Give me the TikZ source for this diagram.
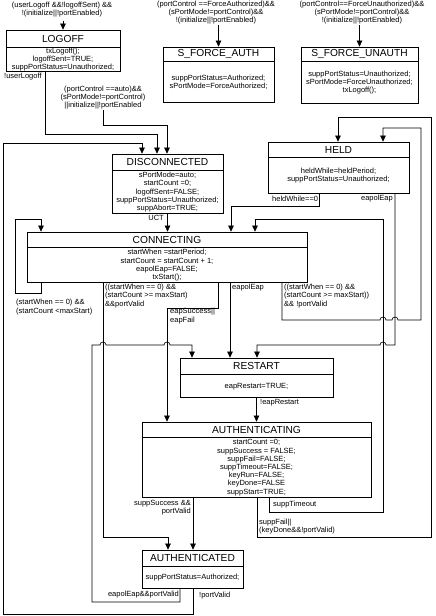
\documentclass[tikz,border=0pt]{standalone}
\usepackage{fontspec}
\setmainfont{Liberation Sans}
\usetikzlibrary{arrows.meta, calc}

\begin{document}
\begin{tikzpicture}[x=1pt,y=-1pt,
    sttitle/.style={draw, line width=0.7pt, inner sep=0pt, font=\fontsize{10.2}{12}\selectfont},
    stbody/.style={draw, line width=0.7pt, inner sep=0pt, align=center, font=\fontsize{7.5}{8.2}\selectfont},
    lbl/.style={inner sep=0pt, font=\fontsize{7.5}{8.2}\selectfont},
    trans/.style={line width=0.65pt, -{Triangle[length=6pt,width=5.5pt]}}]
      \useasboundingbox (0,0) rectangle (436,616);

      % states
      \node[sttitle, minimum width=114pt, minimum height=17pt] (logoff) at (63,38.5) {LOGOFF};
      \node[stbody, minimum width=114pt, minimum height=23pt, anchor=north] (logoffb) at (logoff.south) {txLogoff();\\logoffSent=TRUE;\\suppPortStatus=Unauthorized;};

      \node[sttitle, minimum width=111pt, minimum height=14pt] (sfa) at (218.5,54) {S\_FORCE\_AUTH};
      \node[stbody, minimum width=111pt, minimum height=41pt, anchor=north] (sfab) at (sfa.south) {suppPortStatus=Authorized;\\sPortMode=ForceAuthorized;};

      \node[sttitle, minimum width=117pt, minimum height=14pt] (sfu) at (359.5,54) {S\_FORCE\_UNAUTH};
      \node[stbody, minimum width=117pt, minimum height=42pt, anchor=north] (sfub) at (sfu.south) {suppPortStatus=Unauthorized;\\sPortMode=ForceUnauthorized;\\txLogoff();};

      \node[sttitle, minimum width=111pt, minimum height=16pt] (disc) at (167.5,162) {DISCONNECTED};
      \node[stbody, minimum width=111pt, minimum height=43pt, anchor=north] (discb) at (disc.south) {sPortMode=auto;\\startCount =0;\\logoffSent=FALSE;\\suppPortStatus=Unauthorized;\\suppAbort=TRUE;};

      \node[sttitle, minimum width=141pt, minimum height=15pt] (held) at (338.5,149.5) {HELD};
      \node[stbody, minimum width=141pt, minimum height=36pt, anchor=north] (heldb) at (held.south) {heldWhile=heldPeriod;\\suppPortStatus=Unauthorized;};

      \node[sttitle, minimum width=280pt, minimum height=15pt] (conn) at (167,239.5) {CONNECTING};
      \node[stbody, minimum width=280pt, minimum height=35pt, anchor=north] (connb) at (conn.south) {startWhen =startPeriod;\\startCount = startCount + 1;\\eapolEap=FALSE;\\txStart();};

      \node[sttitle, minimum width=153pt, minimum height=16pt] (restart) at (256.5,366) {RESTART};
      \node[stbody, minimum width=153pt, minimum height=23pt, anchor=north] (restartb) at (restart.south) {eapRestart=TRUE;};

      \node[sttitle, minimum width=229pt, minimum height=15pt] (authing) at (256.5,429.5) {AUTHENTICATING};
      \node[stbody, minimum width=229pt, minimum height=60pt, anchor=north] (authingb) at (authing.south) {startCount =0;\\suppSuccess = FALSE;\\suppFail=FALSE;\\suppTimeout=FALSE;\\keyRun=FALSE;\\keyDone=FALSE\\suppStart=TRUE;};

      \node[sttitle, minimum width=101pt, minimum height=16pt] (authd) at (192.5,558) {AUTHENTICATED};
      \node[stbody, minimum width=101pt, minimum height=22pt, anchor=north] (authdb) at (authd.south) {suppPortStatus=Authorized;};

      % global entries
      \coordinate (inlogoff) at (63,21);
      \draw[trans] (inlogoff) -- (logoff.north);
      \node[lbl, align=center] (lblogoff) at (62,9.5) {(userLogoff \&\&!logoffSent) \&\&\\!(initialize||!portEnabled)};

      \coordinate (insfa) at (218.5,25);
      \draw[trans] (insfa) -- (sfa.north);
      \node[lbl, align=center] (lbsfa) at (216,12.5) {(portControl ==ForceAuthorized)\&\&\\(sPortMode!=portControl)\&\&\\!(initialize||!portEnabled)};

      \coordinate (insfu) at (359.5,25);
      \draw[trans] (insfu) -- (sfu.north);
      \node[lbl, align=center] (lbsfu) at (362,12.5) {(portControl==ForceUnauthorized)\&\&\\(sPortMode!=portControl)\&\&\\!(initialize||!portEnabled)};

      \coordinate (inauto) at (103,110);
      \draw[trans] (inauto) |- (167,125) -- (167,0 |- disc.north);
      \node[lbl, align=center] (lbauto) at (103,97.5) {(portControl ==auto)\&\&\\(sPortMode!=portControl)\\||initialize||!portEnabled};

      % LOGOFF
      \draw[trans] (45,0 |- logoffb.south) |- (157,134) -- (157,0 |- disc.north);
      \node[lbl, anchor=west] (lbuser) at (4,77) {!userLogoff};

      % DISCONNECTED
      \draw[trans] (discb.south) -- (discb.south |- conn.north);
      \node[lbl, anchor=east] (lbuct) at (164,218) {UCT};

      % HELD
      \draw[trans] (319,0 |- heldb.south) |- (231,206) -- (231,0 |- conn.north);
      \node[lbl, anchor=west] (lbheld) at (272,199) {heldWhile==0};
      \draw[trans] (395,0 |- heldb.south) -- (395,345) -- (386,345) arc(0:180:3pt) -- (257,345) -- (257,0 |- restart.north);
      \node[lbl, anchor=east] (lbheap) at (393,199) {eapolEap};

      % CONNECTING
      \draw[trans] (41,0 |- connb.south) |- (15,293) |- (41,219) -- (41,0 |- conn.north);
      \node[lbl, anchor=west, align=left] (lbretry) at (16,307) {(startWhen == 0) \&\&\\(startCount <maxStart)};
      \draw[trans] (103,0 |- connb.south) |- (168,537) -- (168,0 |- authd.north);
      \node[lbl, anchor=west, align=left] (lbvalid) at (105,296) {((startWhen == 0) \&\&\\(startCount >= maxStart)\\\&\&portValid};
      \draw[trans] (218,0 |- connb.south) |- (167,308) -- (167,0 |- authing.north);
      \node[lbl, anchor=west, align=left] (lbeap) at (170,316) {eapSuccess||\\eapFail};
      \draw[trans] (230,0 |- connb.south) -- (230,0 |- restart.north);
      \node[lbl, anchor=west] (lbceap) at (232,288) {eapolEap};
      \draw[trans] (282,0 |- connb.south) -- (282,320) -- (380,320) arc(180:0:3pt) -- (392,320) arc(180:0:3pt) -- (421,320) |- (383,128) -- (383,0 |- held.north);
      \node[lbl, anchor=west, align=left] (lbnovalid) at (284,296) {((startWhen == 0) \&\&\\(startCount >= maxStart))\\\&\& !portValid};

      % RESTART
      \draw[trans] (restartb.south) -- (authing.north);
      \node[lbl, anchor=west] (lbrestart) at (260,403) {!eapRestart};

      % AUTHENTICATING
      \draw[trans] (193,0 |- authingb.south) -- (193,0 |- authd.north);
      \node[lbl, anchor=east, align=right] (lbsucc) at (191,508) {suppSuccess \&\&\\portValid};
      \draw[trans] (269,0 |- authingb.south) |- (383,512) |- (255,219) -- (255,0 |- conn.north);
      \node[lbl, anchor=west] (lbtime) at (273,505) {suppTimeout};
      \draw[trans] (257,0 |- authingb.south) |- (431,537) |- (338,117) -- (338,0 |- held.north);
      \node[lbl, anchor=west, align=left] (lbfail) at (259,526.5) {suppFail||\\(keyDone\&\&!portValid)};

      % AUTHENTICATED
      \draw[trans] (180,0 |- authdb.south) |- (92,602) -- (92,345) -- (100,345) arc(180:0:3pt) -- (164,345) arc(180:0:3pt) -- (192,345) -- (192,0 |- restart.north);
      \node[lbl, anchor=east] (lbaeap) at (179,595) {eapolEap\&\&portValid};
      \draw[trans] (193,0 |- authdb.south) -- (193,614) -| (3,143) -- (142,143) -- (142,0 |- disc.north);
      \node[lbl, anchor=west] (lbnopv) at (199,596) {!portValid};
\end{tikzpicture}
\end{document}
